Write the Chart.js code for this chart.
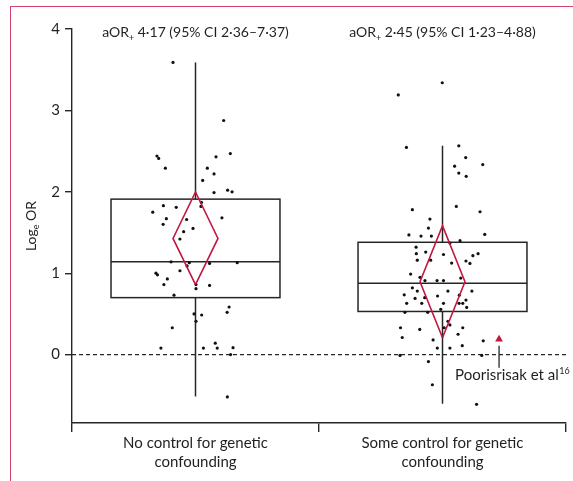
<!DOCTYPE html>
<html>
<head>
<meta charset="utf-8">
<script src="https://cdn.jsdelivr.net/npm/chart.js@4.4.1/dist/chart.umd.min.js"></script>
<style>
  html, body { margin: 0; padding: 0; background: #fff; }
  #wrap { position: relative; width: 573px; height: 481px; }
  #frame { position: absolute; left: 10px; top: 6px; right: 0; bottom: 0;
           border-top: 1.5px solid #d2426b; border-left: 1.5px solid #d2426b; }
  canvas { position: absolute; left: 0; top: 0; }
</style>
</head>
<body>
<div id="wrap">
  <div id="frame"></div>
  <canvas id="chart" width="573" height="481"></canvas>
</div>
<script>
// Chart data
const groupLabels = [['No control for genetic', 'confounding'], ['Some control for genetic', 'confounding']];
const aOR = [4.17, 2.45];
const aORText = ['4·17', '2·45'];
const ciText = ['2·36–7·37', '1·23–4·88'];
const ciLow = [2.36, 1.23];
const ciHigh = [7.37, 4.88];

const boxQ1 = [0.70, 0.53];
const boxMedian = [1.14, 0.876];
const boxQ3 = [1.91, 1.38];
const whiskerLow = [-0.515, -0.605];
const whiskerHigh = [3.59, 2.565];

const yTicks = [0, 1, 2, 3, 4];

// individual study estimates (log OR) and their horizontal jitter within the group
const noControlY = [3.59, 2.876, 2.44, 2.41, 2.47, 2.43, 2.29, 2.29, 2.22, 2.14, 1.99, 2.02, 2.00, 1.83, 1.81,
  1.75, 1.87, 1.82, 1.67, 1.66, 1.60, 1.68, 1.55, 1.51, 1.42, 1.14, 1.13, 1.09, 1.12, 1.13, 1.03, 1.00, 0.98,
  0.93, 0.86, 0.86, 0.85, 0.81, 0.73, 0.585, 0.52, 0.50, 0.487, 0.41, 0.33, 0.08, 0.08, 0.14, 0.08, 0.085,
  0.00, -0.52];
const noControlJitter = [-0.091, 0.114, -0.156, -0.149, 0.141, 0.083, -0.122, 0.048, 0.075, 0.029, 0.075,
  0.130, 0.148, -0.130, -0.078, -0.173, 0.024, 0.022, -0.118, -0.036, -0.131, 0.107, -0.010, -0.048, -0.063,
  -0.099, -0.025, -0.034, 0.057, 0.169, -0.063, -0.160, -0.154, -0.114, -0.128, 0.002, 0.057, 0.002, -0.087,
  0.136, 0.128, -0.006, 0.025, 0.002, -0.094, -0.140, 0.032, 0.080, 0.088, 0.152, 0.142, 0.129];

const someControlY = [3.34, 3.19, 2.545, 2.565, 2.42, 2.315, 2.335, 2.23, 2.19, 1.78, 1.82, 1.755, 1.665,
  1.555, 1.47, 1.456, 1.456, 1.477, 1.40, 1.37, 1.32, 1.24, 1.26, 1.23, 1.24, 1.215, 1.16, 1.16, 1.15, 1.12,
  1.125, 0.99, 0.95, 0.91, 0.91, 0.91, 0.94, 0.82, 0.78, 0.78, 0.78, 0.735, 0.72, 0.73, 0.69, 0.70, 0.67,
  0.63, 0.63, 0.63, 0.63, 0.63, 0.58, 0.52, 0.52, 0.557, 0.41, 0.365, 0.33, 0.33, 0.33, 0.31, 0.21, 0.25,
  0.18, 0.17, 0.11, 0.08, 0.08, -0.01, -0.01, -0.085, -0.37, -0.61];
const someControlJitter = [-0.001, -0.179, -0.146, 0.066, 0.094, 0.049, 0.163, 0.066, 0.096, -0.122, 0.056,
  0.152, -0.051, -0.057, -0.136, -0.087, -0.045, 0.171, 0.071, 0.030, -0.107, -0.106, -0.068, 0.004, 0.144,
  0.123, -0.102, -0.048, 0.095, 0.111, 0.037, -0.129, -0.091, -0.071, -0.022, 0.004, 0.074, -0.122, -0.102,
  0.022, 0.119, -0.155, -0.020, 0.068, -0.111, -0.072, 0.095, -0.145, -0.084, 0.004, 0.067, 0.082, 0.098,
  -0.152, -0.060, -0.007, 0.022, 0.030, 0.007, 0.082, -0.170, -0.092, -0.163, 0.063, -0.038, 0.165, 0.080,
  -0.021, 0.030, -0.172, 0.159, -0.057, -0.041, 0.138];

// Poorisrisak et al (highlighted study)
const refGroup = 1;
const refJitter = 0.229;
const refY = 0.19;
const refLabel = 'Poorisrisak et al';
const refCite = '16';

const TXT = '#231f20';
const LINE = '#262626';
const RED = '#c3173f';
const FONT = 'Lato';

function groupPoints(idx, ys, jit) {
  return ys.map((y, i) => ({ x: idx + 0.5 + jit[i], y: y }));
}
function diamond(idx) {
  const c = idx + 0.5, w = 0.091;
  const est = Math.log(aOR[idx]);
  return [
    { x: c, y: Math.log(ciLow[idx]) },
    { x: c + w, y: est },
    { x: c, y: Math.log(ciHigh[idx]) },
    { x: c - w, y: est },
    { x: c, y: Math.log(ciLow[idx]) }
  ];
}

const boxPlugin = {
  id: 'boxes',
  beforeDatasetsDraw(chart) {
    const { ctx, chartArea: a, scales: { x, y } } = chart;
    ctx.save();
    // reference line at 0
    ctx.strokeStyle = LINE;
    ctx.lineWidth = 1.3;
    ctx.setLineDash([4, 3]);
    ctx.beginPath();
    ctx.moveTo(a.left, y.getPixelForValue(0));
    ctx.lineTo(a.right, y.getPixelForValue(0));
    ctx.stroke();
    ctx.setLineDash([]);

    ctx.lineWidth = 1.5;
    for (let i = 0; i < boxQ1.length; i++) {
      const xl = x.getPixelForValue(i + 0.5 - 0.342);
      const xr = x.getPixelForValue(i + 0.5 + 0.342);
      const xc = x.getPixelForValue(i + 0.5);
      const q1 = y.getPixelForValue(boxQ1[i]);
      const q3 = y.getPixelForValue(boxQ3[i]);
      const md = y.getPixelForValue(boxMedian[i]);
      ctx.strokeRect(xl, q3, xr - xl, q1 - q3);
      ctx.beginPath();
      ctx.moveTo(xl, md); ctx.lineTo(xr, md);
      ctx.moveTo(xc, q3); ctx.lineTo(xc, y.getPixelForValue(whiskerHigh[i]));
      ctx.moveTo(xc, q1); ctx.lineTo(xc, y.getPixelForValue(whiskerLow[i]));
      ctx.stroke();
    }
    ctx.restore();
  },
  afterDraw(chart) {
    const { ctx, chartArea: a, scales: { x, y } } = chart;
    ctx.save();
    ctx.fillStyle = TXT;
    ctx.textBaseline = 'alphabetic';
    // group headers: aOR+ x (95% CI a–b)
    const big = '14px ' + FONT, small = '9px ' + FONT;
    for (let i = 0; i < aOR.length; i++) {
      const rest = ' ' + aORText[i] + ' (95% CI ' + ciText[i] + ')';
      ctx.font = big;
      const w1 = ctx.measureText('aOR').width;
      const w3 = ctx.measureText(rest).width;
      ctx.font = small;
      const w2 = ctx.measureText('+').width;
      let px = x.getPixelForValue(i + 0.5) - (w1 + w2 + w3) / 2;
      const base = 37;
      ctx.textAlign = 'left';
      ctx.font = big; ctx.fillText('aOR', px, base); px += w1;
      ctx.font = small; ctx.fillText('+', px, base + 4); px += w2;
      ctx.font = big; ctx.fillText(rest, px, base);
    }

    // y-axis title Log_e OR
    ctx.translate(31, (a.top + a.bottom) / 2);
    ctx.rotate(-Math.PI / 2);
    ctx.font = big;
    const l1 = ctx.measureText('Log').width, l3 = ctx.measureText(' OR').width;
    ctx.font = small;
    const l2 = ctx.measureText('e').width;
    let tx = -(l1 + l2 + l3) / 2;
    ctx.font = big; ctx.fillText('Log', tx, 5); tx += l1;
    ctx.font = small; ctx.fillText('e', tx, 8); tx += l2;
    ctx.font = big; ctx.fillText(' OR', tx, 5);
    ctx.setTransform(1, 0, 0, 1, 0, 0);

    // annotation for highlighted study
    const rx = x.getPixelForValue(refGroup + 0.5 + refJitter);
    const ry = y.getPixelForValue(refY);
    ctx.strokeStyle = LINE;
    ctx.lineWidth = 1.3;
    ctx.beginPath();
    ctx.moveTo(rx, ry + 6.5);
    ctx.lineTo(rx, ry + 28.5);
    ctx.stroke();
    ctx.font = '15px ' + FONT;
    const lx = rx - 44;
    ctx.fillText(refLabel, lx, ry + 41);
    const lw = ctx.measureText(refLabel).width;
    ctx.font = small;
    ctx.fillText(refCite, lx + lw + 0.5, ry + 35);
    ctx.restore();
  }
};

new Chart(document.getElementById('chart'), {
  type: 'scatter',
  data: {
    datasets: [
      { data: diamond(0), showLine: true, borderColor: RED, borderWidth: 1.6, pointRadius: 0, fill: false, tension: 0 },
      { data: diamond(1), showLine: true, borderColor: RED, borderWidth: 1.6, pointRadius: 0, fill: false, tension: 0 },
      { data: groupPoints(0, noControlY, noControlJitter), backgroundColor: '#111', borderWidth: 0, pointRadius: 1.6 },
      { data: groupPoints(1, someControlY, someControlJitter), backgroundColor: '#111', borderWidth: 0, pointRadius: 1.6 },
      { data: [{ x: refGroup + 0.5 + refJitter, y: refY }], pointStyle: 'triangle', pointRadius: 4.5,
        backgroundColor: RED, borderColor: RED, borderWidth: 0 }
    ]
  },
  options: {
    responsive: false,
    animation: false,
    layout: { padding: { top: 29, right: 7, left: 0, bottom: 0 } },
    plugins: { legend: { display: false }, tooltip: { enabled: false } },
    scales: {
      x: {
        type: 'linear', min: 0, max: 2,
        afterBuildTicks: s => { s.ticks = [0, 0.5, 1, 1.5, 2].map(v => ({ value: v })); },
        afterFit: s => { s.height = 58; },
        border: { color: LINE, width: 1.4 },
        grid: {
          drawOnChartArea: false, tickLength: 9, lineWidth: 1.4,
          tickColor: c => (c.tick && Number.isInteger(c.tick.value)) ? LINE : 'rgba(0,0,0,0)'
        },
        ticks: {
          autoSkip: false, maxRotation: 0, padding: 1, color: TXT,
          font: { family: FONT, size: 15, lineHeight: 1.3 },
          callback: v => v === 0.5 ? groupLabels[0] : v === 1.5 ? groupLabels[1] : ''
        }
      },
      y: {
        type: 'linear', min: -0.84, max: 4,
        afterBuildTicks: s => { s.ticks = yTicks.map(v => ({ value: v })); },
        afterFit: s => { s.width = 72; },
        border: { color: LINE, width: 1.4 },
        grid: { drawOnChartArea: false, tickLength: 7, lineWidth: 1.4, tickColor: LINE },
        ticks: { padding: 5, color: TXT, font: { family: FONT, size: 15 } }
      }
    }
  },
  plugins: [boxPlugin]
});
</script>
</body>
</html>
